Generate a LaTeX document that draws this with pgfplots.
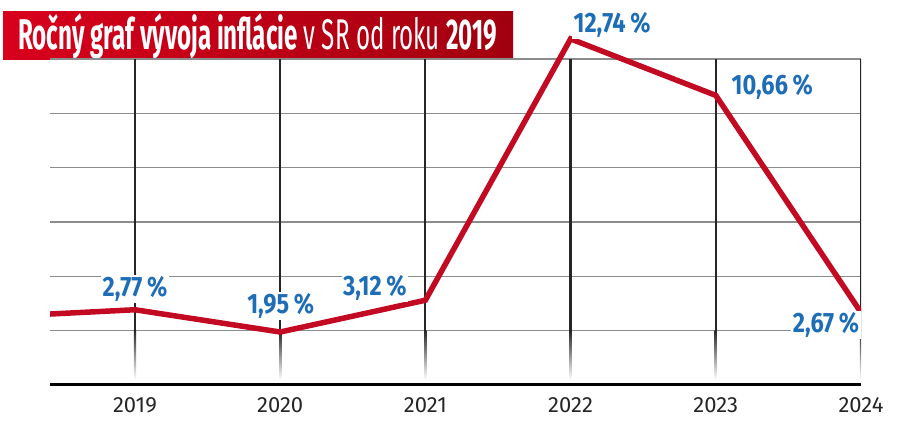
\documentclass[border=0pt]{standalone}
\usepackage{fontspec}
\setmainfont{Fira Sans}
\newfontfamily\labfont[FakeStretch=0.84]{Fira Sans}
\usepackage{graphicx}
\usepackage{pgfplots}
\pgfplotsset{compat=1.18}
\usepackage{pgfplotstable}

\definecolor{infred}{HTML}{C20A22}
\definecolor{infblue}{HTML}{1D6DB7}
\definecolor{titleL}{HTML}{D8001C}
\definecolor{titleR}{HTML}{A2000F}

% x = rok - 2019, inflacia v %, posun popisu (dx, dy v pt)
\pgfplotstableread{
x val dx dy
-1 2.50 0 0
0 2.77 0 21
1 1.95 0.5 26
2 3.12 -50.5 12.7
3 12.74 41.5 14
4 10.66 56.5 8
5 2.67 -35 -12.5
}\inflacia

\begin{document}
\begin{tikzpicture}
\useasboundingbox (0pt,0pt) rectangle (900pt,422pt);

% titulok
\shade[left color=titleL,right color=titleR] (3pt,362pt) rectangle (513pt,410pt);
\node[anchor=base west,inner sep=0pt,text=white] at (18pt,372pt)
  {\resizebox{479pt}{\height}{\fontsize{43}{43}\selectfont\bfseries Ročný graf vývoja inflácie \mdseries v SR od roku \bfseries 2019}};

\begin{axis}[
  name=ax,
  at={(50pt,37pt)}, anchor=south west,
  scale only axis, width=811pt, height=383.05pt,
  xmin=-0.585, xmax=5, ymin=0, ymax=14.1,
  axis line style={draw=none},
  tick style={draw=none},
  xtick={0,1,2,3,4,5},
  xticklabels={2019,2020,2021,2022,2023,2024},
  xticklabel style={anchor=center,yshift=-20pt,text=black!85,
    font=\fontsize{22}{22}\selectfont},
  ytick={4,6,8,10,12}, yticklabels={},
  extra y ticks={2}, extra y tick labels={},
  ymajorgrids,
  major grid style={black!45,line width=1.3pt},
  extra y tick style={grid style={black!22,line width=1.3pt}},
]

% zvisle ciary
\pgfplotsinvokeforeach{0,1,2,3,4,5}{
  \draw[black!85,line width=2.2pt] (axis cs:#1,2) -- (axis cs:#1,12);
}
\shade[top color=black!85,bottom color=white] (axis cs:-0.0076,0.2) rectangle (axis cs:0.0076,2);
\shade[top color=black!85,bottom color=white] (axis cs:0.9924,0.2) rectangle (axis cs:1.0076,2);
\shade[top color=black!85,bottom color=white] (axis cs:1.9924,0.2) rectangle (axis cs:2.0076,2);
\shade[top color=black!85,bottom color=white] (axis cs:2.9924,0.2) rectangle (axis cs:3.0076,2);
\shade[top color=black!85,bottom color=white] (axis cs:3.9924,0.2) rectangle (axis cs:4.0076,2);
\shade[top color=black!85,bottom color=white] (axis cs:4.9924,0.2) rectangle (axis cs:5.0076,2);

\addplot[infred,line width=5.5pt,mark=none] table[x=x,y=val]{\inflacia};

\addplot[draw=none,mark=none,
  skip coords between index={0}{1},
  point meta=explicit,
  visualization depends on={\thisrow{dx}\as\ldx},
  visualization depends on={\thisrow{dy}\as\ldy},
  nodes near coords={\pgfmathprintnumber[assume math mode=true,use comma,fixed,fixed zerofill,precision=2]{\pgfplotspointmeta}\,\%},
  nodes near coords style={anchor=center,xshift=\ldx pt,yshift=\ldy pt,
    fill=white,inner sep=1.5pt,text=infblue,
    font=\labfont\bfseries\fontsize{28}{28}\selectfont},
] table[x=x,y=val,meta=val]{\inflacia};
\end{axis}

\draw[black,line width=3pt] (ax.south west) -- (ax.south east);
\end{tikzpicture}
\end{document}
